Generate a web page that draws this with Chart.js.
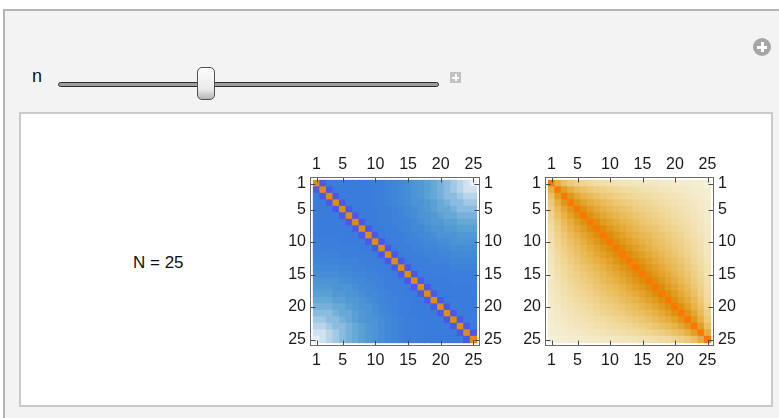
<!DOCTYPE html>
<html>
<head>
<meta charset="utf-8">
<script src="https://cdn.jsdelivr.net/npm/chart.js@4.4.0/dist/chart.umd.min.js"></script>
<style>
  html, body { margin: 0; padding: 0; background: #ffffff; width: 779px; height: 418px; overflow: hidden;
    font-family: "Liberation Sans", Arial, sans-serif; }
  .panel { position: absolute; left: 3px; top: 9px; width: 800px; height: 420px; background: #f3f3f3;
    border-top: 2px solid #b4b4b4; border-left: 2px solid #b4b4b4; }
  .pane { position: absolute; left: 19px; top: 112px; width: 750px; height: 291px; background: #ffffff;
    border: 2px solid #c9c9c9; }
  .lbl-n { position: absolute; left: 32px; top: 66px; font-size: 18px; line-height: 20px; color: #111; }
  .track { position: absolute; left: 58px; top: 82px; width: 379px; height: 3px; background: #9c9c9c;
    border: 1px solid #2e2e2e; border-radius: 3px; }
  .thumb { position: absolute; left: 197px; top: 67px; width: 16px; height: 31px; border: 1px solid #505050;
    border-radius: 5px; background: linear-gradient(to bottom, #fdfdfd 0%, #e9e9e9 70%, #b4b4b4 100%); }
  .pbox { position: absolute; left: 450px; top: 72px; width: 11px; height: 11px; background: #c2c2c2; }
  .pbox::before, .pcircle::before { content: ""; position: absolute; background: #fff; }
  .pbox::after, .pcircle::after { content: ""; position: absolute; background: #fff; }
  .pbox::before { left: 2px; top: 4.5px; width: 7px; height: 2px; }
  .pbox::after { left: 4.5px; top: 2px; width: 2px; height: 7px; }
  .pcircle { position: absolute; left: 753px; top: 38px; width: 18px; height: 18px; border-radius: 50%; background: #a6a6a6; }
  .pcircle::before { left: 4px; top: 7.5px; width: 10px; height: 3px; }
  .pcircle::after { left: 7.5px; top: 4px; width: 3px; height: 10px; }
  .caption { position: absolute; left: 133px; top: 253px; font-size: 17px; line-height: 19px; color: #111; white-space: nowrap; }
  canvas { position: absolute; }
</style>
</head>
<body>
<div class="panel"></div>
<div class="pcircle"></div>
<div class="lbl-n">n</div>
<div class="track"></div>
<div class="thumb"></div>
<div class="pbox"></div>
<div class="pane"></div>
<div class="caption">N = 25</div>
<canvas id="matA" width="240" height="240" style="left:270px; top:140px;"></canvas>
<canvas id="matB" width="240" height="240" style="left:505px; top:140px;"></canvas>
<script>
// Row / column indices of the 25 x 25 matrices and the frame tick positions
const cellIndex = [1, 2, 3, 4, 5, 6, 7, 8, 9, 10, 11, 12, 13, 14, 15, 16, 17, 18, 19, 20, 21, 22, 23, 24, 25];
const tickValues = [1, 5, 10, 15, 20, 25];

// Left matrix, upper triangle: row i lists columns i..25 (symmetric)
const leftRows = [
  [0.92, -1, -.80, -.80, -.80, -.80, -.80, -.80, -.80, -.78, -.78, -.76, -.74, -.72, -.69, -.65, -.61, -.56, -.50, -.44, -.37, -.29, -.21, -.13, -.05],
  [0.92, -1, -.80, -.80, -.80, -.80, -.80, -.80, -.78, -.78, -.76, -.74, -.72, -.69, -.65, -.61, -.56, -.50, -.44, -.37, -.29, -.21, -.13, -.13],
  [0.92, -1, -.80, -.80, -.80, -.80, -.80, -.78, -.78, -.76, -.74, -.72, -.69, -.65, -.61, -.56, -.50, -.44, -.37, -.37, -.29, -.21, -.21],
  [0.92, -1, -.80, -.80, -.80, -.80, -.78, -.78, -.76, -.74, -.72, -.69, -.65, -.65, -.61, -.56, -.50, -.44, -.37, -.37, -.29, -.29],
  [0.92, -1, -.80, -.80, -.80, -.80, -.78, -.78, -.76, -.74, -.72, -.69, -.65, -.61, -.56, -.50, -.50, -.44, -.37, -.37, -.37],
  [0.92, -1, -.80, -.80, -.80, -.78, -.78, -.76, -.74, -.72, -.69, -.65, -.65, -.61, -.56, -.50, -.50, -.44, -.44, -.44],
  [0.92, -1, -.80, -.80, -.78, -.78, -.76, -.76, -.74, -.72, -.69, -.65, -.61, -.61, -.56, -.56, -.50, -.50, -.50],
  [0.92, -1, -.80, -.80, -.78, -.78, -.76, -.74, -.72, -.72, -.69, -.65, -.65, -.61, -.61, -.56, -.56, -.56],
  [0.92, -1, -.80, -.78, -.78, -.78, -.76, -.74, -.72, -.72, -.69, -.65, -.65, -.65, -.61, -.61, -.61],
  [0.92, -1, -.80, -.78, -.78, -.76, -.76, -.74, -.72, -.72, -.69, -.69, -.65, -.65, -.65, -.65],
  [0.92, -1, -.80, -.78, -.78, -.76, -.76, -.74, -.74, -.72, -.72, -.69, -.69, -.69, -.69],
  [0.92, -1, -.80, -.78, -.78, -.78, -.76, -.76, -.74, -.74, -.72, -.72, -.72, -.72],
  [0.92, -1, -.80, -.78, -.78, -.78, -.76, -.76, -.76, -.74, -.74, -.74, -.74],
  [0.92, -1, -.80, -.78, -.78, -.78, -.78, -.78, -.76, -.76, -.76, -.76],
  [0.92, -1, -.80, -.80, -.79, -.79, -.79, -.79, -.79, -.79, -.79],
  [0.92, -1, -.80, -.80, -.80, -.80, -.79, -.79, -.79, -.79],
  [0.92, -1, -.80, -.80, -.80, -.80, -.80, -.80, -.80],
  [0.92, -1, -.80, -.80, -.80, -.80, -.80, -.80],
  [0.92, -1, -.80, -.80, -.80, -.80, -.80],
  [0.92, -1, -.80, -.80, -.80, -.80],
  [0.92, -1, -.80, -.80, -.80],
  [0.92, -1, -.80, -.80],
  [0.92, -1, -.80],
  [0.92, -1],
  [0.92]
];

// Right matrix, upper triangle: row i lists columns i..25 (symmetric)
const rightRows = [
  [1, .69, .55, .47, .41, .37, .33, .30, .27, .25, .23, .22, .20, .19, .17, .16, .15, .13, .12, .11, .10, .09, .07, .06, .04],
  [1, .80, .68, .59, .53, .48, .43, .40, .37, .34, .31, .29, .27, .25, .23, .21, .19, .18, .16, .14, .12, .10, .08, .06],
  [1, .85, .74, .66, .60, .54, .50, .46, .42, .39, .36, .33, .31, .29, .26, .24, .22, .20, .18, .15, .13, .10, .07],
  [1, .87, .78, .70, .64, .59, .54, .50, .46, .43, .39, .37, .34, .31, .28, .26, .23, .21, .18, .15, .12, .09],
  [1, .89, .80, .73, .67, .62, .57, .53, .49, .45, .42, .39, .36, .33, .30, .27, .24, .21, .18, .14, .10],
  [1, .90, .82, .75, .69, .64, .59, .55, .51, .47, .43, .40, .37, .33, .30, .27, .23, .20, .16, .11],
  [1, .91, .83, .77, .71, .66, .61, .56, .52, .48, .44, .40, .37, .33, .30, .26, .22, .18, .12],
  [1, .92, .84, .78, .72, .67, .62, .57, .53, .49, .44, .40, .37, .33, .28, .24, .19, .13],
  [1, .92, .85, .79, .73, .67, .62, .58, .53, .49, .44, .40, .36, .31, .26, .21, .15],
  [1, .92, .85, .79, .73, .68, .63, .58, .53, .48, .43, .39, .34, .29, .23, .16],
  [1, .92, .86, .79, .73, .68, .62, .57, .52, .47, .42, .37, .31, .25, .17],
  [1, .93, .86, .79, .73, .67, .62, .56, .51, .45, .39, .33, .27, .19],
  [1, .93, .86, .79, .73, .67, .61, .55, .49, .43, .36, .29, .20],
  [1, .92, .85, .79, .72, .66, .59, .53, .46, .39, .31, .22],
  [1, .92, .85, .78, .71, .64, .57, .50, .42, .34, .23],
  [1, .92, .84, .77, .69, .62, .54, .46, .37, .25],
  [1, .92, .83, .75, .67, .59, .50, .40, .27],
  [1, .91, .82, .73, .64, .54, .43, .30],
  [1, .90, .80, .70, .60, .48, .33],
  [1, .89, .78, .66, .53, .37],
  [1, .87, .74, .59, .41],
  [1, .85, .68, .47],
  [1, .80, .55],
  [1, .69],
  [1]
];

// Colour ramps: positive values run cream -> amber -> orange, negative values white -> blue -> violet
const posStops = [
  [0.00, [246, 243, 229]], [0.05, [245, 239, 216]], [0.20, [243, 229, 186]], [0.35, [240, 215, 150]],
  [0.50, [236, 198, 112]], [0.65, [232, 180, 74]], [0.75, [228, 166, 48]], [0.85, [224, 152, 26]],
  [0.92, [223, 142, 12]], [0.97, [240, 130, 6]], [1.00, [252, 120, 2]]
];
const negStops = [
  [0.00, [244, 247, 250]], [0.05, [230, 239, 246]], [0.20, [186, 214, 234]], [0.33, [150, 194, 226]],
  [0.42, [124, 180, 220]], [0.50, [102, 168, 214]], [0.56, [90, 160, 212]], [0.62, [80, 152, 212]],
  [0.69, [70, 142, 214]], [0.74, [64, 134, 216]], [0.80, [58, 124, 220]], [0.90, [64, 104, 228]],
  [1.00, [75, 88, 236]]
];

function rampColour(stops, t) {
  t = Math.max(0, Math.min(1, t));
  for (let k = 1; k < stops.length; k++) {
    if (t <= stops[k][0]) {
      const [t0, c0] = stops[k - 1], [t1, c1] = stops[k];
      const f = (t - t0) / (t1 - t0);
      const c = c0.map((v, n) => Math.round(v + (c1[n] - v) * f));
      return `rgb(${c[0]},${c[1]},${c[2]})`;
    }
  }
  const c = stops[stops.length - 1][1];
  return `rgb(${c[0]},${c[1]},${c[2]})`;
}
function cellColour(v) { return v >= 0 ? rampColour(posStops, v) : rampColour(negStops, -v); }

// Expand a stored upper triangle into the full symmetric value lookup
function valueAt(rows, i, j) { return j >= i ? rows[i][j - i] : rows[j][i - j]; }

// Frame and inward tick marks on all four sides
const framePlugin = {
  id: 'matrixFrame',
  afterDatasetsDraw(chart) {
    const { ctx, chartArea: a, scales } = chart;
    const L = Math.round(a.left) + 0.5, R = Math.round(a.right) - 0.5;
    const T = Math.round(a.top) + 0.5, B = Math.round(a.bottom) - 0.5;
    ctx.save();
    ctx.lineWidth = 1;
    ctx.strokeStyle = '#4a4a4a';
    ctx.beginPath();
    tickValues.forEach(v => {
      const x = Math.round(scales.x.getPixelForValue(v)) + 0.5;
      const y = Math.round(scales.y.getPixelForValue(v)) + 0.5;
      ctx.moveTo(x, T); ctx.lineTo(x, T + 5);
      ctx.moveTo(x, B); ctx.lineTo(x, B - 5);
      ctx.moveTo(L, y); ctx.lineTo(L + 5, y);
      ctx.moveTo(R, y); ctx.lineTo(R - 5, y);
    });
    ctx.stroke();
    ctx.strokeStyle = '#6b6b6b';
    ctx.strokeRect(L, T, R - L, B - T);
    ctx.restore();
  }
};

const tickFont = { family: '"Liberation Sans", Arial, sans-serif', size: 16 };

function axis(position, pad, extra) {
  return Object.assign({
    type: 'linear', position, min: 0, max: 26, offset: false,
    grid: { display: true, drawOnChartArea: false, drawTicks: false, offset: false },
    border: { display: false },
    ticks: { font: tickFont, color: '#1a1a1a', autoSkip: false, maxRotation: 0, padding: pad,
      callback: v => String(v) },
    afterBuildTicks: s => { s.ticks = tickValues.map(v => ({ value: v })); }
  }, extra);
}

function matrixChart(id, rows, rightWidth) {
  const points = [], colours = [];
  cellIndex.forEach((row, i) => {
    cellIndex.forEach((col, j) => {
      points.push({ x: col, y: [row - 0.5, row + 0.5] });
      colours.push(cellColour(valueAt(rows, i, j)));
    });
  });
  return new Chart(document.getElementById(id), {
    type: 'bar',
    data: { datasets: [{ data: points, backgroundColor: colours, borderWidth: 0,
      barPercentage: 1, categoryPercentage: 1, inflateAmount: 0.4 }] },
    options: {
      responsive: false, animation: false, devicePixelRatio: 1, events: [],
      layout: { padding: 0 },
      plugins: { legend: { display: false }, tooltip: { enabled: false } },
      scales: {
        x: axis('bottom', 5, { afterFit: s => { s.height = 34; } }),
        x2: axis('top', 3, { afterFit: s => { s.height = 37; } }),
        y: axis('left', 4, { reverse: true, afterFit: s => { s.width = 40; } }),
        y2: axis('right', 4, { reverse: true, afterFit: s => { s.width = rightWidth; } })
      }
    },
    plugins: [framePlugin]
  });
}

matrixChart('matA', leftRows, 30);
matrixChart('matB', rightRows, 31);
</script>
</body>
</html>
